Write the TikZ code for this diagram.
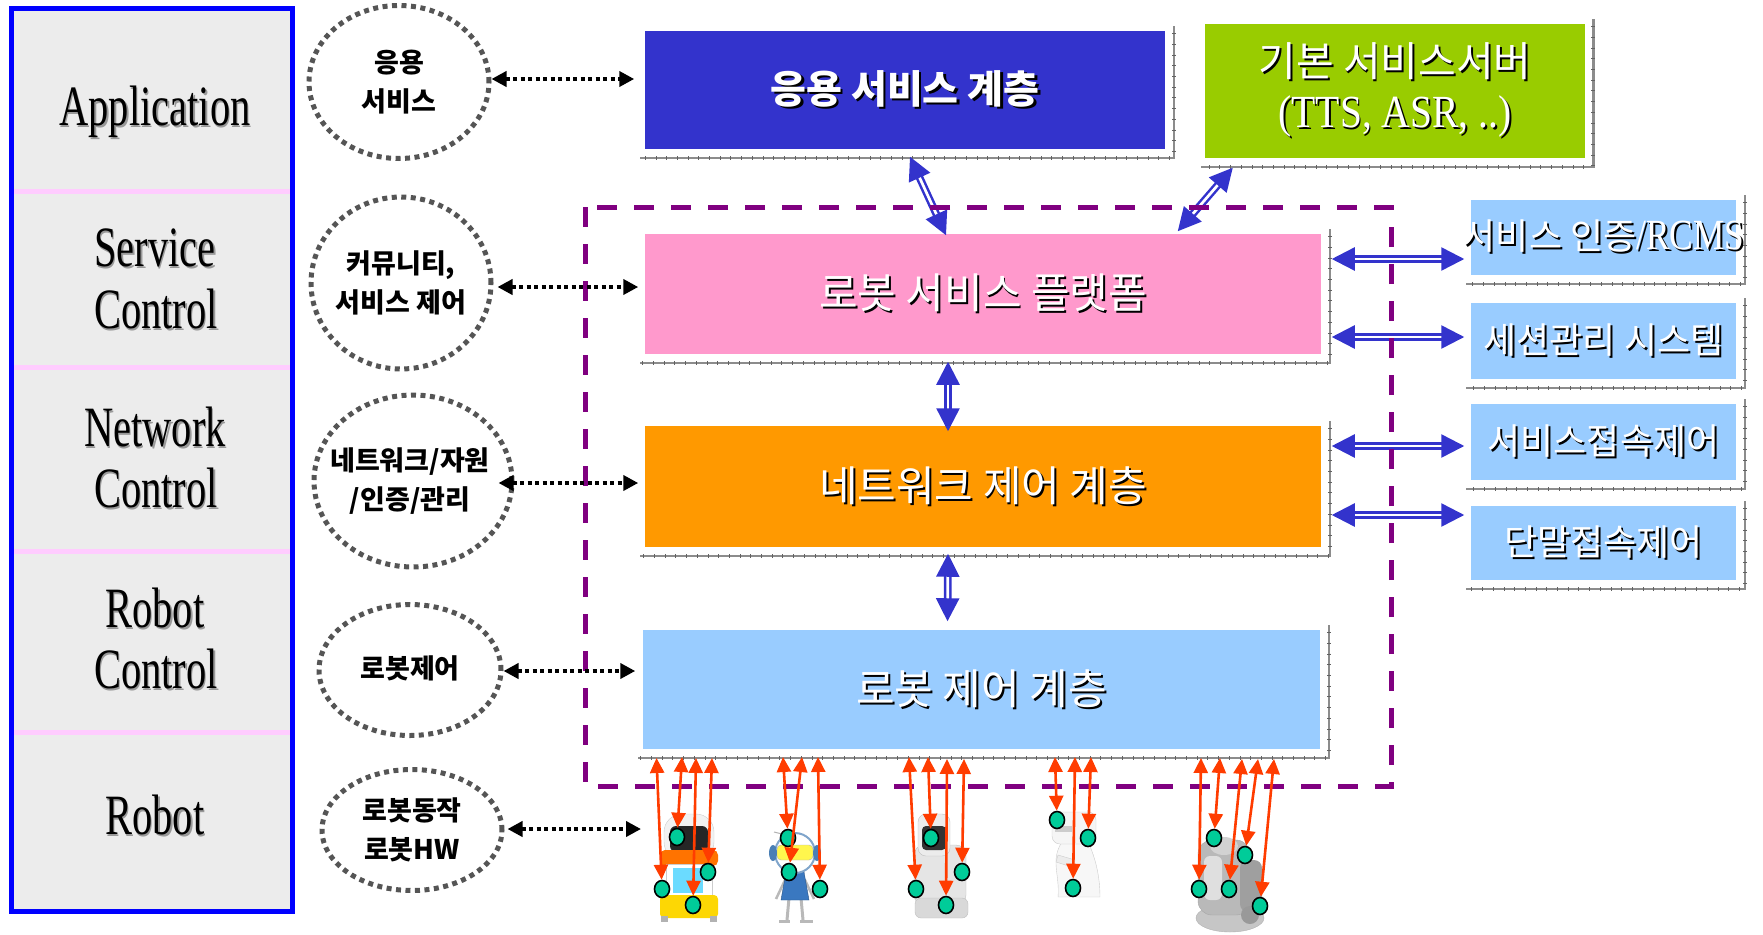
\documentclass[tikz,border=0pt]{standalone}
\usepackage{fontspec}
\usepackage{graphicx}
\setmainfont{Liberation Serif}
\newfontfamily\kr{Noto Sans CJK KR}
\usetikzlibrary{arrows.meta,shapes.geometric}

\definecolor{appblue}{RGB}{51,51,204}
\definecolor{srvgreen}{RGB}{153,204,0}
\definecolor{platpink}{RGB}{255,153,204}
\definecolor{netorange}{RGB}{255,153,0}
\definecolor{ctrlblue}{RGB}{153,204,255}
\definecolor{framefill}{RGB}{236,236,236}
\definecolor{framepink}{RGB}{255,204,255}
\definecolor{dashpurple}{RGB}{128,0,128}
\definecolor{linkblue}{RGB}{51,51,204}
\definecolor{jointred}{RGB}{255,60,0}
\definecolor{jointgreen}{RGB}{0,204,153}
\definecolor{dotgray}{RGB}{85,85,85}
\definecolor{edgegray}{RGB}{140,140,140}
\definecolor{helmetblue}{RGB}{74,127,181}
\definecolor{suitblue}{RGB}{58,120,192}

% text with a drop shadow: [offset]{shadow colour}{text}
\newcommand\shd[3][2pt]{\leavevmode\rlap{\kern#1\raisebox{-#1}{\color{#2}#3}}#3}
% condensed serif layer label
\newcommand\lbl[1]{\scalebox{0.71}[1]{\shd{black!40}{#1}}}
% a line of text that does not widen its ring
\newcommand\rl[1]{\makebox[0pt]{#1}}
% gray edge with ticks along the right and lower side of a box
\newcommand\tierbackdrop[1]{%
  \draw[boxedge] ([shift={(7pt,3pt)}]#1.north east) -- ([shift={(7pt,-7pt)}]#1.south east) -- ([shift={(-3pt,-7pt)}]#1.south west);
  \draw[edgetick] ([shift={(7pt,-4pt)}]#1.north east) -- ([shift={(7pt,-7pt)}]#1.south east) -- ([shift={(-3pt,-7pt)}]#1.south west);}

\tikzset{
  layerlabel/.style={anchor=base, inner sep=0pt, font=\fontsize{57}{62}\selectfont},
  ring/.style={ellipse, draw=dotgray, line width=5pt, dash pattern=on 5pt off 4.5pt,
    inner sep=0pt, align=center, font=\kr\bfseries\fontsize{27}{39}\selectfont},
  tier/.style={rectangle, draw=white, line width=1.5pt, inner sep=0pt, text=white},
  tiertext/.style={font=\kr\fontsize{42}{44}\selectfont},
  sidebox/.style={tier, fill=ctrlblue, minimum width=267pt, font=\kr\fontsize{36}{38}\selectfont},
  boxedge/.style={draw=edgegray, line width=2.5pt},
  edgetick/.style={draw=edgegray!70!black, line width=4pt, dash pattern=on 0.7pt off 10pt},
  fence/.style={draw=dashpurple, line width=5pt, dash pattern=on 20pt off 17pt},
  dotarrow/.style={draw=black, line width=4pt, dash pattern=on 4pt off 3.5pt,
    >={Triangle[length=15pt,width=15pt]}, <->},
  dbl/.style={draw=linkblue, double=white, double distance=2.7pt, line width=2.5pt,
    >={Triangle[length=23pt,width=23pt]}, <->},
  redarrow/.style={draw=jointred, line width=2.6pt,
    >={Triangle[length=15pt,width=14pt]}, <->},
  joint/.style={ellipse, draw=black, line width=1.6pt, fill=jointgreen,
    minimum width=15pt, minimum height=17pt, inner sep=0pt},
}

\begin{document}
\begin{tikzpicture}[x=1pt, y=-1pt]
\useasboundingbox (0,0) rectangle (1763,934);

% ---------- layer column ----------
\filldraw[fill=framefill, draw=blue, line width=5pt] (11.5,8.5) rectangle (292.5,911.5);
\foreach \yy in {191,367,551,732} \draw[framepink, line width=5pt] (14,\yy) -- (290,\yy);

\node[layerlabel] (lApp) at (155,125) {\lbl{Application}};
\node[layerlabel] (lSvc) at (155,266) {\lbl{Service}};
\node[layerlabel] (lSvcC) at (156,328) {\lbl{Control}};
\node[layerlabel] (lNet) at (155,446) {\lbl{Network}};
\node[layerlabel] (lNetC) at (156,507) {\lbl{Control}};
\node[layerlabel] (lRob) at (155,627) {\lbl{Robot}};
\node[layerlabel] (lRobC) at (156,688) {\lbl{Control}};
\node[layerlabel] (lHw) at (155,834) {\lbl{Robot}};

% ---------- function circles ----------
\node[ring, minimum width=180pt, minimum height=153pt] (c1) at (399,82) {\rl{응용}\\\rl{서비스}};
\node[ring, minimum width=180pt, minimum height=172pt] (c2) at (401,283) {\rl{커뮤니티,}\\\rl{서비스 제어}};
\node[ring, minimum width=198pt, minimum height=172pt] (c3) at (413,481) {\rl{\kern-6pt 네트워크/자원}\\\rl{\kern-6pt /인증/관리}};
\node[ring, minimum width=182pt, minimum height=131pt] (c4) at (410,670) {\rl{\raisebox{5pt}{로봇제어}}};
\node[ring, minimum width=180pt, minimum height=121pt] (c5) at (412,830) {\rl{로봇동작}\\\rl{로봇HW}};

% ---------- tiers ----------
\node[tier, fill=appblue, minimum width=522pt, minimum height=120pt,
      font=\kr\bfseries\fontsize{39}{42}\selectfont] (app) at (905,90) {\shd[2.5pt]{black}{응용 서비스 계층}};
\node[tier, fill=srvgreen, minimum width=381pt, minimum height=136pt, align=center,
      font=\fontsize{46}{51}\selectfont] (srv) at (1395,91)
      {{\kr\fontsize{41}{44}\selectfont\shd{black}{기본 서비스서버}}\\{\scalebox{0.86}[1]{\shd{black}{(TTS, ASR, ..)}}}};
\node[tier, tiertext, fill=platpink, minimum width=678pt, minimum height=122pt] (rsp) at (983,294) {\shd{black}{로봇 서비스 플랫폼}};
\node[tier, tiertext, fill=netorange, minimum width=678pt, minimum height=123pt] (net) at (983,486.5) {\shd{black}{네트워크 제어 계층}};
\node[tier, tiertext, fill=ctrlblue, minimum width=679pt, minimum height=121pt] (rc) at (981.5,689.5) {\shd{black}{로봇 제어 계층}};

\node[sidebox, minimum height=77pt] (rb1) at (1603.5,237.5)
  {\makebox[0pt]{\shd{black}{서비스 인증{\rmfamily\fontsize{43}{43}\selectfont\scalebox{0.82}[1]{/RCMS}}}}};
\node[sidebox, minimum height=78pt] (rb2) at (1603.5,341) {\shd{black}{세션관리 시스템}};
\node[sidebox, minimum height=78pt] (rb3) at (1603.5,442) {\shd{black}{서비스접속제어}};
\node[sidebox, minimum height=76pt] (rb4) at (1603.5,543) {\shd{black}{단말접속제어}};

\tierbackdrop{app}
\tierbackdrop{srv}
\tierbackdrop{rsp}
\tierbackdrop{net}
\tierbackdrop{rc}
\tierbackdrop{rb1}
\tierbackdrop{rb2}
\tierbackdrop{rb3}
\tierbackdrop{rb4}

% ---------- links between tiers ----------
\draw[dbl] ([shift={(5pt,-6pt)}]app.south) -- ([shift={(-37pt,-3pt)}]rsp.north);
\draw[dbl] ([shift={(29pt,-8pt)}]srv.south west) -- ([shift={(-145pt,1pt)}]rsp.north east);
\draw[dbl] ([shift={(-35pt,-6pt)}]rsp.south) -- ([shift={(-35pt,-7pt)}]net.north);
\draw[dbl] ([shift={(-35pt,-5pt)}]net.south) -- ([shift={(-34pt,7pt)}]rc.north);

\draw[dbl, shorten <=9pt, shorten >=5pt] (rsp.east |- 0,259) -- (rb1.west |- 0,259);
\draw[dbl, shorten <=9pt, shorten >=5pt] (rsp.east |- 0,337) -- (rb2.west |- 0,337);
\draw[dbl, shorten <=9pt, shorten >=5pt] (net.east |- 0,446) -- (rb3.west |- 0,446);
\draw[dbl, shorten <=9pt, shorten >=5pt] (net.east |- 0,515) -- (rb4.west |- 0,515);

% ---------- robot platform boundary ----------
\draw[fence] (585,207) rectangle (1391,786);

% ---------- circle-to-tier links ----------
\coordinate (hwEnd) at (641,829);
\draw[dotarrow, shorten >=9pt] (c1.east |- 0,79) -- (app.west |- 0,79);
\draw[dotarrow, shorten <=4pt, shorten >=5pt] (c2.east |- 0,287) -- (rsp.west |- 0,287);
\draw[dotarrow, shorten <=-16pt, shorten >=5pt] (c3.east |- 0,483) -- (net.west |- 0,483);
\draw[dotarrow, shorten >=6pt] (c4.east |- 0,671) -- (rc.west |- 0,671);
\draw[dotarrow, shorten <=3pt] (c5.east |- 0,829) -- (hwEnd);

% ---------- robots ----------
% kiosk robot
\filldraw[fill=gray!10, draw=gray!40, rounded corners=18pt] (664,814) rectangle (714,860);
\fill[black!85, rounded corners=6pt] (670,826) rectangle (708,852);
\fill[orange!90!red, rounded corners=5pt] (660,850) rectangle (718,866);
\filldraw[fill=white, draw=gray!40] (666,864) rectangle (712,898);
\fill[ctrlblue!70!cyan] (673,868) rectangle (703,893);
\fill[yellow!75!orange, rounded corners=4pt] (660,895) rectangle (718,918);
\fill[gray!60] (661,916) rectangle (668,922);
\fill[gray!60] (710,916) rectangle (717,922);
% helmet figure
\draw[gray!60, line width=1pt] (790,836) -- (774,832);
\draw[gray!55, line width=3pt] (789,898) -- (787,920) (801,898) -- (803,920);
\draw[gray!55, line width=3pt] (779,921) -- (790,921) (800,921) -- (813,921);
\draw[gray!55, line width=2.5pt] (785,880) -- (776,899) (805,880) -- (814,899);
\filldraw[fill=suitblue, draw=suitblue!70!black] (786,872) -- (804,872) -- (809,900) -- (781,900) -- cycle;
\filldraw[fill=white, draw=helmetblue!70, line width=2pt] (795,853) circle [radius=20pt];
\filldraw[fill=yellow!70, draw=gray!60, rounded corners=4pt] (777,845) rectangle (813,860);
\fill[helmetblue] (773,853) ellipse [x radius=4pt, y radius=8pt];
\fill[helmetblue] (817,853) ellipse [x radius=4pt, y radius=8pt];
% gray service robot
\filldraw[fill=gray!20, draw=gray!50, rounded corners=10pt] (914,845) rectangle (966,905);
\filldraw[fill=gray!15, draw=gray!50, rounded corners=8pt] (918,814) rectangle (950,856);
\fill[black!80, rounded corners=4pt] (922,826) rectangle (946,850);
\filldraw[fill=gray!30, draw=gray!50, rounded corners=6pt] (915,898) rectangle (968,918);
% white humanoid
\filldraw[fill=gray!6, draw=gray!40] (1062,842) .. controls (1050,860) and (1060,875) .. (1058,897)
  -- (1100,897) .. controls (1100,870) and (1092,850) .. (1088,842) -- cycle;
\filldraw[fill=gray!8, draw=gray!40, rounded corners=8pt] (1052,812) rectangle (1096,844);
\fill[gray!40] (1055,826) rectangle (1072,832);
\filldraw[fill=gray!15, draw=gray!40] (1058,855) -- (1075,860) -- (1072,867) -- (1056,862) -- cycle;
% dark metallic robot
\filldraw[fill=gray!45, draw=gray!60] (1230,918) ellipse [x radius=34pt, y radius=14pt];
\filldraw[fill=gray!55, draw=gray!70, rounded corners=14pt] (1198,840) rectangle (1250,915);
\fill[gray!75, rounded corners=8pt] (1240,860) rectangle (1262,912);
\fill[gray!25, rounded corners=6pt] (1204,856) rectangle (1222,900);
\fill[gray!35] (1224,846) ellipse [x radius=14pt, y radius=9pt];
\fill[gray!80] (1250,915) circle [radius=9pt];

% ---------- joints ----------
\node[joint] (j1a) at (677,837) {};
\node[joint] (j1b) at (708,872) {};
\node[joint] (j1c) at (662,889) {};
\node[joint] (j1d) at (693,905) {};
\node[joint] (j2a) at (788,838) {};
\node[joint] (j2b) at (789,872) {};
\node[joint] (j2c) at (820,889) {};
\node[joint] (j3a) at (931,838) {};
\node[joint] (j3b) at (962,872) {};
\node[joint] (j3c) at (916,889) {};
\node[joint] (j3d) at (946,905) {};
\node[joint] (j4a) at (1057,820) {};
\node[joint] (j4b) at (1088,838) {};
\node[joint] (j4c) at (1073,888) {};
\node[joint] (j5a) at (1214,838) {};
\node[joint] (j5b) at (1245,855) {};
\node[joint] (j5c) at (1199,889) {};
\node[joint] (j5d) at (1229,889) {};
\node[joint] (j5e) at (1260,906) {};

% ---------- control links to joints ----------
\coordinate (t11) at (656.5,758); \coordinate (t12) at (682,757);
\coordinate (t13) at (696,758);   \coordinate (t14) at (712,758);
\coordinate (t21) at (783,757);   \coordinate (t22) at (802,757);
\coordinate (t23) at (818,757);
\coordinate (t31) at (909,757);   \coordinate (t32) at (928,757);
\coordinate (t33) at (947,759);   \coordinate (t34) at (964,759);
\coordinate (t41) at (1055,757);  \coordinate (t42) at (1075,757);
\coordinate (t43) at (1091,757);
\coordinate (t51) at (1201,758);  \coordinate (t52) at (1220,758);
\coordinate (t53) at (1242,759);  \coordinate (t54) at (1258,759);
\coordinate (t55) at (1274,759);

\draw[redarrow] (t11) -- (j1c);
\draw[redarrow] (t12) -- (j1a);
\draw[redarrow] (t13) -- (j1d);
\draw[redarrow] (t14) -- (j1b);
\draw[redarrow] (t21) -- (j2a);
\draw[redarrow] (t22) -- (j2b);
\draw[redarrow] (t23) -- (j2c);
\draw[redarrow] (t31) -- (j3c);
\draw[redarrow] (t32) -- (j3a);
\draw[redarrow] (t33) -- (j3d);
\draw[redarrow] (t34) -- (j3b);
\draw[redarrow] (t41) -- (j4a);
\draw[redarrow] (t42) -- (j4c);
\draw[redarrow] (t43) -- (j4b);
\draw[redarrow] (t51) -- (j5c);
\draw[redarrow] (t52) -- (j5a);
\draw[redarrow] (t53) -- (j5d);
\draw[redarrow] (t54) -- (j5b);
\draw[redarrow] (t55) -- (j5e);
\end{tikzpicture}
\end{document}
